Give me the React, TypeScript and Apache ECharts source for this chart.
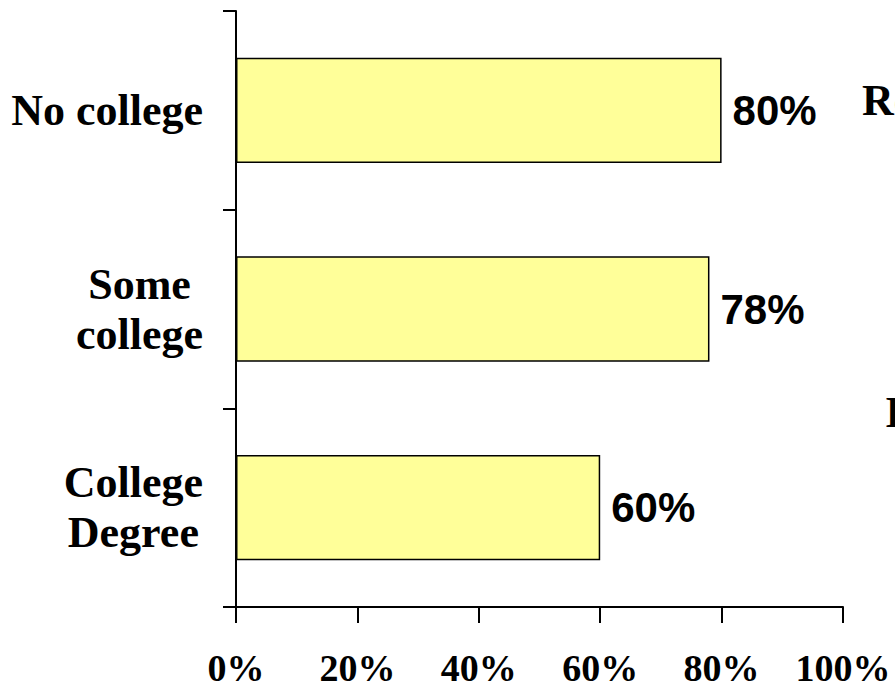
import React, { useEffect, useRef } from "react";
import * as echarts from "echarts";

const categories = ["No college", "Some college", "College Degree"];
const categoryLabels = ["No college", "Some\ncollege", "College\nDegree"];
const values = [80, 78, 60];
const xTicks = [0, 20, 40, 60, 80, 100];
const sideTexts = ["Re", "I"];

export default function App() {
  const ref = useRef<HTMLDivElement>(null);
  useEffect(() => {
    document.body.style.margin = "0";
    const chart = echarts.init(ref.current!, undefined, { renderer: "svg" });
    const serif = "'Liberation Serif', 'Times New Roman', serif";
    const sans = "'Liberation Sans', Arial, sans-serif";
    chart.setOption({
      animation: false,
      backgroundColor: "#ffffff",
      grid: { left: 236, right: 52, top: 11, bottom: 81, containLabel: false },
      xAxis: {
        type: "value",
        min: xTicks[0],
        max: xTicks[xTicks.length - 1],
        interval: 20,
        splitLine: { show: false },
        axisLine: { show: true, lineStyle: { color: "#000", width: 2 } },
        axisTick: { show: true, length: 16, lineStyle: { color: "#000", width: 2 } },
        axisLabel: {
          formatter: (v: number) => `${v}%`,
          color: "#000",
          fontFamily: serif,
          fontWeight: "bold",
          fontSize: 38,
          margin: 42,
        },
      },
      yAxis: {
        type: "category",
        data: categories,
        inverse: true,
        axisLine: { show: true, lineStyle: { color: "#000", width: 2 } },
        axisTick: { show: true, length: 13, lineStyle: { color: "#000", width: 2 } },
        axisLabel: {
          color: "#000",
          fontFamily: serif,
          fontWeight: "bold",
          fontSize: 44,
          margin: 33,
          align: "right",
          lineHeight: 50,
          formatter: (v: string) => {
            const i = categories.indexOf(v);
            return categoryLabels[i]
              .split("\n")
              .map((s) => `{c|${s}}`)
              .join("\n");
          },
          rich: {
            c: {
              align: "center",
              color: "#000",
              fontFamily: serif,
              fontWeight: "bold",
              fontSize: 44,
              lineHeight: 50,
            },
          },
        },
      },
      series: [
        {
          type: "bar",
          data: values,
          barWidth: "53%",
          itemStyle: { color: "#FFFF99", borderColor: "#000", borderWidth: 1.5 },
          label: {
            show: true,
            position: "right",
            distance: 11,
            formatter: (p: any) => `${p.value}%`,
            color: "#000",
            fontFamily: sans,
            fontWeight: "bold",
            fontSize: 42,
          },
        },
      ],
      graphic: [
        {
          type: "text",
          left: 862,
          top: 78,
          style: { text: sideTexts[0], fill: "#000", font: `bold 44px ${serif}` },
        },
        {
          type: "text",
          left: 885,
          top: 390,
          style: { text: sideTexts[1], fill: "#000", font: `bold 44px ${serif}` },
        },
      ],
    });
    return () => chart.dispose();
  }, []);
  return <div ref={ref} style={{ width: 895, height: 688 }} />;
}
